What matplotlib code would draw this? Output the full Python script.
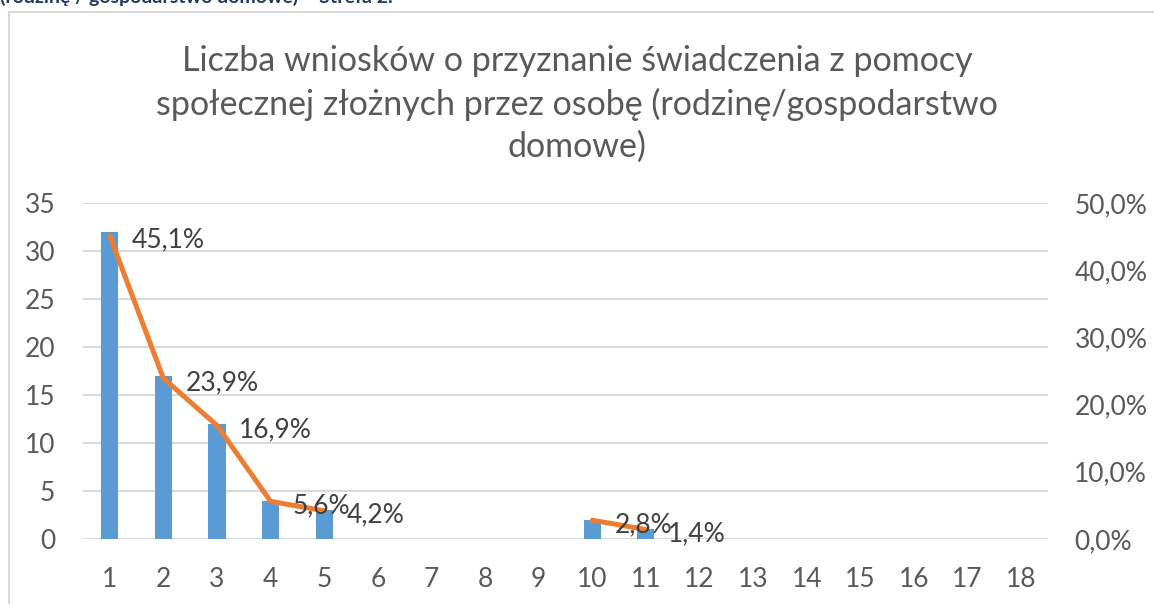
import numpy as np
import matplotlib.pyplot as plt
from matplotlib.patches import Rectangle

plt.rcParams['font.family'] = ['Lato', 'DejaVu Sans']

categories = list(range(1, 19))
counts = [32, 17, 12, 4, 3, 0, 0, 0, 0, 2, 1, 0, 0, 0, 0, 0, 0, 0]
shares = [45.1, 23.9, 16.9, 5.6, 4.2, None, None, None, None, 2.8, 1.4,
          None, None, None, None, None, None, None]

title = ("Liczba wniosków o przyznanie świadczenia z pomocy\n"
         "społecznej złożnych przez osobę (rodzinę/gospodarstwo\n"
         "domowe)")
header = "(rodzinę / gospodarstwo domowe) – Strefa 2."

text_col = '#595959'
bar_col = '#5B9BD5'
line_col = '#ED7D31'

fig = plt.figure(figsize=(11.54, 6.04), dpi=100)

# cut-off caption above the chart frame and the frame itself
fig.text(0.0, 1 - 3 / 604, header, fontsize=14, fontweight='bold',
         color='#1F3864', ha='left', va='baseline')
fig.patches.append(Rectangle((9 / 1154, -0.05), 1.2, 1 - 12 / 604 + 0.05,
                             transform=fig.transFigure, fill=False,
                             edgecolor='#D9D9D9', linewidth=1.5))

ax = fig.add_axes([83 / 1154, 1 - 539 / 604, 965 / 1154, 336 / 604])
x = np.arange(len(categories))
ax.bar(x, counts, width=0.32, color=bar_col, zorder=2)
ax.set_xlim(-0.5, len(categories) - 0.5)
ax.set_ylim(0, 35)
ax.set_yticks(range(0, 36, 5))
ax.set_xticks(x)
ax.set_xticklabels([str(c) for c in categories])
ax.grid(axis='y', color='#D9D9D9', linewidth=1.5, zorder=0)
for s in ax.spines.values():
    s.set_visible(False)
ax.tick_params(length=0, labelsize=19, colors=text_col, pad=20)
ax.tick_params(axis='y', pad=20)

ax2 = ax.twinx()
sh = np.array([np.nan if v is None else v for v in shares], dtype=float)
ax2.plot(x, sh, color=line_col, linewidth=3.6, solid_capstyle='round', zorder=3)
ax2.set_ylim(0, 50)
ax2.set_yticks(range(0, 51, 10))
ax2.set_yticklabels([f"{v},0%" for v in range(0, 51, 10)])
for s in ax2.spines.values():
    s.set_visible(False)
ax2.tick_params(length=0, labelsize=19, colors=text_col, pad=19)

for xi, v in zip(x, shares):
    if v is None:
        continue
    ax2.annotate(f"{v:.1f}".replace('.', ',') + "%", (xi, v),
                 xytext=(16, -3), textcoords='offset points',
                 ha='left', va='center', fontsize=19, color='#404040')

fig.text(0.5, 1 - 104 / 604, title, fontsize=24.5, color=text_col,
         ha='center', va='center', linespacing=1.4)

fig.savefig('out.png', dpi=100)
